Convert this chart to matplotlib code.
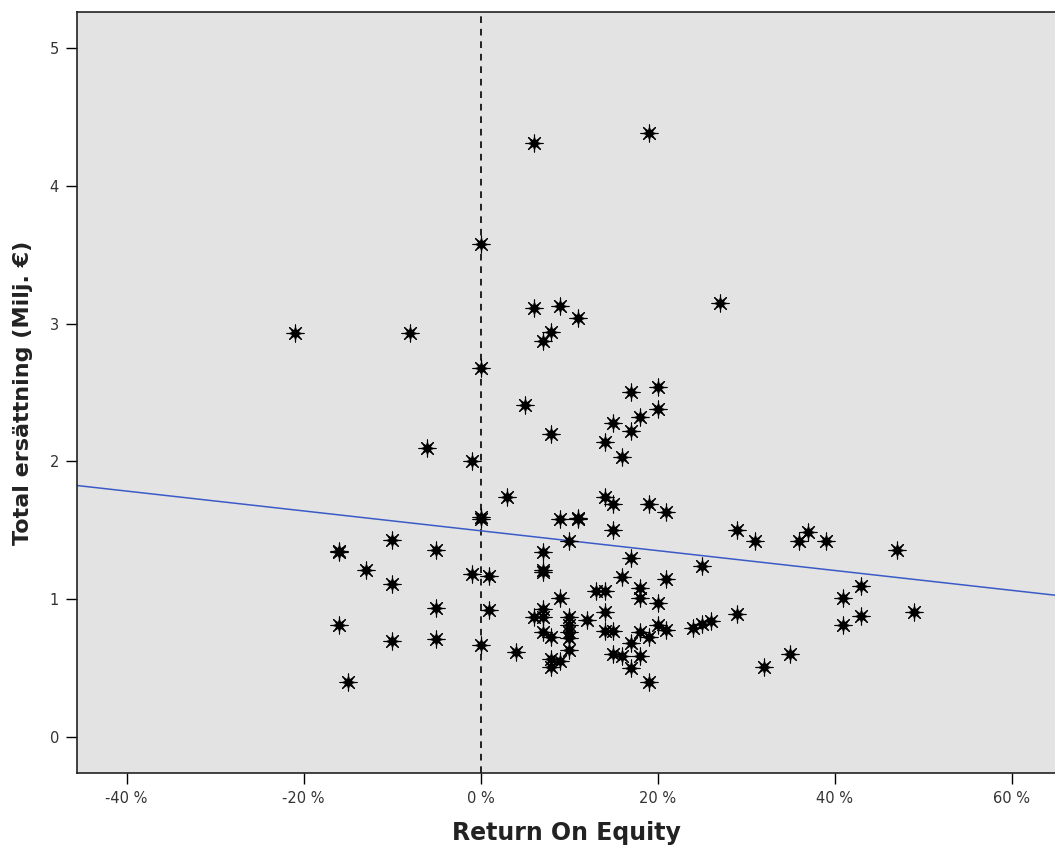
import matplotlib
matplotlib.use("Agg")
import matplotlib.pyplot as plt
from matplotlib.ticker import FuncFormatter

# Return On Equity (%) and Total ersättning (Milj. €)
roe = [-21, -8, 0, -6, -1, 0, 3, 0, 0,
       -16, -16, -13, -10, -10, -5, -5, -16, -10, -5, -15, -1, 1, 1, 0, 4,
       6, 19, 6, 9, 11, 8, 7, 27,
       5, 8, 17, 20, 20, 15, 18, 17, 14, 16,
       14, 15, 19, 21, 9, 11, 11, 15, 10, 7, 7, 7, 17, 25, 29, 16, 21,
       18, 18, 13, 14, 9, 20, 14, 7, 6, 7, 10, 12, 10, 10, 10, 10, 14, 15,
       20, 21, 18, 19, 24, 25, 26, 29, 7, 8, 17, 15, 16, 18, 17, 8, 9, 8, 19,
       31, 36, 37, 39, 47, 43, 41, 43, 41, 49, 35, 32]
comp = [2.93, 2.93, 3.58, 2.10, 2.00, 2.68, 1.74, 1.60, 1.58,
        1.35, 1.34, 1.21, 1.43, 1.11, 1.36, 0.94, 0.81, 0.70, 0.71, 0.40, 1.18, 1.17, 0.92, 0.67, 0.62,
        4.31, 4.38, 3.11, 3.13, 3.04, 2.94, 2.87, 3.15,
        2.41, 2.20, 2.50, 2.54, 2.38, 2.28, 2.32, 2.22, 2.14, 2.03,
        1.74, 1.69, 1.69, 1.63, 1.58, 1.59, 1.58, 1.50, 1.42, 1.34, 1.21, 1.20, 1.30, 1.24, 1.50, 1.16, 1.15,
        1.08, 1.01, 1.06, 1.06, 1.01, 0.97, 0.91, 0.93, 0.87, 0.87, 0.87, 0.85, 0.81, 0.76, 0.72, 0.63, 0.77, 0.77,
        0.81, 0.78, 0.76, 0.73, 0.79, 0.82, 0.84, 0.89, 0.76, 0.73, 0.68, 0.60, 0.59, 0.59, 0.50, 0.57, 0.55, 0.51, 0.40,
        1.42, 1.42, 1.49, 1.42, 1.36, 1.10, 1.01, 0.88, 0.81, 0.91, 0.60, 0.51]

# Fit line
fit_intercept = 1.497
fit_slope = -0.0072

x_ticks = [-40, -20, 0, 20, 40, 60]
y_ticks = [0, 1, 2, 3, 4, 5]

fig = plt.figure(figsize=(10.55, 8.55), dpi=100)
ax = fig.add_axes([77/1055, 82/855, 1 - 77/1055, (773-12)/855])
ax.set_facecolor('#e3e3e3')

xlim = (-45.6, 64.9)
ax.set_xlim(*xlim)
ax.set_ylim(-0.26, 5.26)

ax.axvline(0, color='black', lw=1.2, ls=(0, (4, 3.5)), zorder=1)
ax.plot(list(xlim), [fit_intercept + fit_slope * xlim[0], fit_intercept + fit_slope * xlim[1]],
        color='#3a5bc7', lw=1.1, zorder=2)

ax.scatter(roe, comp, marker=(8, 1, 0), s=120, color='black', linewidths=0, zorder=3)
ax.scatter(roe, comp, marker=(8, 2, 0), s=150, color='black', linewidths=0.8, zorder=3)

ax.set_xticks(x_ticks)
ax.set_yticks(y_ticks)
ax.xaxis.set_major_formatter(FuncFormatter(lambda v, p: f"{int(v)} %"))
ax.tick_params(axis='both', direction='out', length=8, width=1, colors='black',
               labelsize=10.5, labelcolor='#333333', pad=5)

for s in ['left', 'bottom', 'top']:
    ax.spines[s].set_color('#222222')
    ax.spines[s].set_linewidth(1.2)
ax.spines['right'].set_visible(False)

ax.set_xlabel('Return On Equity', fontsize=17, fontweight='bold', color='#222222', labelpad=11)
ax.set_ylabel('Total ersättning (Milj. €)', fontsize=16, fontweight='bold', color='#222222', labelpad=12)

fig.savefig('out.png', dpi=100, facecolor='white')
